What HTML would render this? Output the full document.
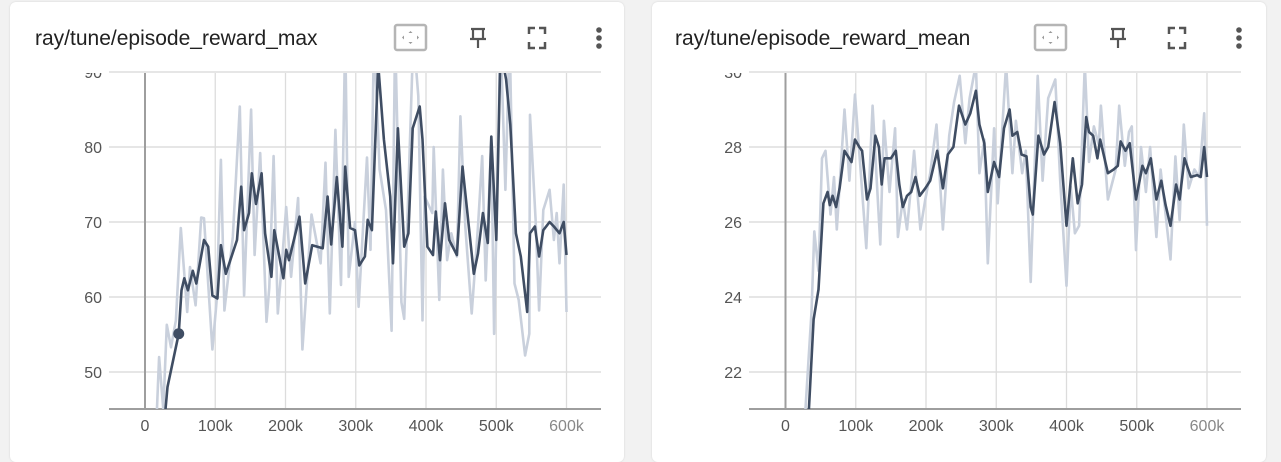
<!DOCTYPE html>
<html><head><meta charset="utf-8"><style>
body{margin:0;width:1281px;height:444px;background:#f2f2f2;overflow:hidden;font-family:"Liberation Sans",sans-serif}
.card{position:absolute;top:2px;width:614px;height:460px;background:#fff;border-radius:6px;box-shadow:0 0 2px rgba(0,0,0,.12)}
svg{position:absolute;left:0;top:0}
</style></head><body>
<div class="card" style="left:10px"></div>
<div class="card" style="left:652px"></div>
<svg id="s" width="1281" height="444"></svg>
<script>
// ---- data: left chart (episode_reward_max) ----
const maxSmoothX=[29,32,48,52,56,61,68,73,84,90,96,103,108,115,131,137,141,148,152,158,166,171,180,184,197,201,205,220,228,238,253,260,265,273,281,285,292,299,305,313,317,323,332,340,349,353,360,369,375,381,391,395,402,410,414,420,427,433,444,452,468,474,481,488,493,500,506,514,520,528,535,544,548,555,561,567,576,582,590,596,600];
const maxSmoothY=[44.9,48,55.1,60.9,62.5,60.9,63.5,61.8,67.6,66.7,60.2,59.8,66.9,63.1,67.6,74.7,68.9,71.2,76.5,72.4,76.5,68.5,62.7,68.9,62.5,66.3,64.9,70.7,61.8,66.9,66.5,73.4,67,76,66.7,77.4,69.2,68.9,64.2,65.4,70.3,68.9,91,81,73.4,64.5,82.5,66.7,68.5,82.5,85.4,81,66.7,65.6,71.4,64.9,72.5,67.6,65.6,77.4,63.1,65.8,71.2,67.2,81.4,67.6,93,89,83,68.5,65.4,58,68.5,69.4,65.4,68.9,70,69.4,68.5,70,65.6];
const maxRawX=[17,20,26,31,37,44,51,60,64,72,80,84,96,102,108,113,125,135,141,151,156,164,173,177,183,189,195,201,208,218,224,237,250,257,263,271,279,285,290,299,304,316,321,326,334,343,351,356,365,369,382,389,395,398,409,411,419,424,430,436,444,449,456,465,474,480,485,493,497,506,513,519,526,532,541,547,548,556,561,567,576,582,586,590,596,600];
const maxRawY=[44.9,52,45,56.3,53.3,56.9,69.2,58,64,58.9,70.6,70.5,53,59.6,78.3,58.2,68,85.4,60.2,85,65.6,79.2,56.7,61.3,78.8,57.8,64.7,72,62.7,73.2,53,71,64.5,77.9,57.8,82.3,61.6,95,62.7,70,58.7,78.6,66.3,95,77,71.6,55.5,95,59.3,57.1,95,86.8,56.9,73.4,71.2,80,59.6,77,64.9,68.5,65.4,84.1,69.4,57.8,69.4,78.8,62.2,81,55.1,95,74.3,95,61.8,59.6,52.2,55.1,84.3,70.3,58.2,71.6,74.3,67.6,71.2,64.5,75,58];
const maxTicks=[50,60,70,80,90];
// ---- data: right chart (episode_reward_mean) ----
const meanSmoothX=[33,40,47,54,60,63,67,72,77,84,94,99,105,109,116,121,128,133,137,141,150,157,162,167,173,179,185,191,199,206,216,224,231,239,247,256,263,271,276,283,288,297,304,311,319,323,330,336,343,349,352,360,368,374,383,391,400,409,416,422,428,432,438,444,448,459,467,473,477,484,490,499,508,513,520,528,535,541,548,556,561,568,577,586,591,596,600];
const meanSmoothY=[20.9,23.4,24.2,26.5,26.8,26.45,26.7,26.4,26.9,27.9,27.6,28.2,28.0,27.9,26.6,26.9,28.3,28.0,27.0,27.7,27.7,27.9,27.0,26.4,26.7,26.8,27.2,26.7,26.9,27.1,27.9,26.9,27.8,28.0,29.1,28.6,28.9,29.5,28.6,28.1,26.8,27.6,27.2,28.5,29.0,28.3,28.4,27.8,27.75,26.4,26.2,28.3,27.8,28.0,29.2,28.1,25.9,27.7,26.5,27.0,28.8,28.4,28.3,27.7,28.2,27.3,27.4,27.5,28.15,27.9,28.1,26.6,27.5,27.3,27.7,26.6,27.1,26.45,25.9,27.0,26.6,27.7,27.2,27.25,27.2,28.0,27.2];
const meanRawX=[28,37,41,47,52,57,64,69,73,84,91,99,106,115,124,135,140,148,156,160,167,173,179,183,192,199,206,215,224,233,240,248,256,262,271,276,283,288,297,302,314,323,328,337,342,349,359,366,374,384,391,400,406,412,418,426,432,439,446,449,459,470,475,483,489,493,499,506,513,519,528,534,541,548,555,561,567,574,582,589,596,600];
const meanRawY=[20.9,23.6,25.75,24.7,27.7,27.9,26.2,27.2,25.8,29.0,27.1,29.4,27.6,25.3,29.1,25.4,28.7,26.8,28.5,25.6,26.6,25.8,27.0,27.9,25.8,26.6,27.3,28.6,25.8,28.3,29.2,29.9,28.1,29.3,30.2,27.3,28.2,24.9,28.5,26.5,30.2,27.3,28.7,27.3,27.9,24.4,29.9,27.1,29.3,29.8,27.1,24.3,26.95,25.7,25.9,30.2,27.6,28.55,28.06,29.1,26.6,27.4,29.1,27.5,28.4,28.55,25.25,28.0,26.8,28.0,25.6,27.4,26.2,25.0,27.75,26.05,28.6,26.9,27.4,27.2,28.9,25.9];
const meanTicks=[22,24,26,28,30];
const xTicks=[0,100,200,300,400,500,600];
const xTickLabels=["0","100k","200k","300k","400k","500k","600k"];

const NS="http://www.w3.org/2000/svg";
const svg=document.getElementById('s');
function mk(tag,attrs,parent){const e=document.createElementNS(NS,tag);for(const k in attrs)e.setAttribute(k,attrs[k]);(parent||svg).appendChild(e);return e;}

function chart(o){
  const g=mk('g',{});
  
  
  const left=o.left,right=o.left+492,top=73,bottom=409;
  const xs=k=>o.x0+(k/600)*(o.x600-o.x0);
  const ys=v=>147+(o.yRef-v)*o.pxPerUnit;
  const t=mk('text',{x:o.left-74,y:45,'font-size':21,fill:'#212121'},g);t.textContent=o.title;
  
  
  const ic=mk('g',{},g);
  
  
  const b=o.left+286;
  const fit=mk('rect',{x:b,y:25,width:31,height:25,rx:2,fill:'#fff',stroke:'#b5b5b5','stroke-width':2.5},ic);
  
  
  mk('path',{d:`M${b+15.5} 31l-2 2h4z M${b+15.5} 44l-2 -2h4z M${b+7} 37.5l2 -2v4z M${b+24} 37.5l-2 -2v4z`,fill:'#999'},ic);
  const pin=mk('path',{d:`M${b+76} 29h14 M${b+78} 29v9 M${b+88} 29v9 M${b+75} 39h16 M${b+83} 39v9`,stroke:'#555','stroke-width':2.2,fill:'none'},ic);
  
  
  const fs=mk('path',{d:`M${b+134} 34v-6h6 M${b+144} 28h6v6 M${b+150} 42v6h-6 M${b+140} 48h-6v-6`,stroke:'#555','stroke-width':2.5,fill:'none'},ic);
  
  
  const more=mk('g',{fill:'#555'},ic);
  
  
  [30,38,46].forEach(y=>mk('circle',{cx:b+204,cy:y,r:2.8},more));
  const cid='c'+o.left;
  const cp=mk('clipPath',{id:cid},g);mk('rect',{x:left,y:top,width:right-left,height:bottom-top},cp);
  const cpy=mk('clipPath',{id:cid+'y'},g);mk('rect',{x:left-45,y:top,width:45,height:bottom-top},cpy);
  o.ticks.forEach(v=>{const y=ys(v);if(y<top-1||y>bottom)return;
    mk('line',{x1:left,x2:right,y1:y,y2:y,stroke:'#d6d6d6','stroke-width':1.3},g);
    const lt=mk('text',{x:left-7,y:y+6,'font-size':16,fill:'#555','text-anchor':'end','clip-path':`url(#${cid}y)`},g);lt.textContent=v;
    
    
  });
  xTicks.forEach((k,i)=>{const x=xs(k);
    mk('line',{x1:x,x2:x,y1:top,y2:bottom,stroke:k===0?'#9e9e9e':'#dcdcdc','stroke-width':k===0?2:1.3},g);
    const tx=mk('text',{x:x,y:431,'font-size':16,fill:i===6?'#888':'#555','text-anchor':'middle'},g);tx.textContent=xTickLabels[i];
    
    
  });
  mk('line',{x1:left,x2:right,y1:bottom,y2:bottom,stroke:'#9e9e9e','stroke-width':2},g);
  const pts=(X,Y)=>X.map((k,i)=>xs(k).toFixed(1)+','+ys(Y[i]).toFixed(1)).join(' ');
  const raw=mk('polyline',{points:pts(o.rawX,o.rawY),fill:'none',stroke:'#c9d0dc','stroke-width':2.6,'stroke-linejoin':'round','clip-path':`url(#${cid})`},g);
  
  
  const sm=mk('polyline',{points:pts(o.smX,o.smY),fill:'none',stroke:'#3f4d63','stroke-width':2.6,'stroke-linejoin':'round','clip-path':`url(#${cid})`},g);
  
  
  if(o.dot!=null){const d=mk('circle',{cx:xs(o.smX[o.dot]),cy:ys(o.smY[o.dot]),r:5.5,fill:'#3f4d63'},g);
    
    }
}
chart({name:'reward-max-chart',title:'ray/tune/episode_reward_max',left:109,x0:145,x600:566.5,yRef:80,pxPerUnit:7.5,ticks:maxTicks,rawX:maxRawX,rawY:maxRawY,smX:maxSmoothX,smY:maxSmoothY,dot:2});
chart({name:'reward-mean-chart',title:'ray/tune/episode_reward_mean',left:749,x0:785.5,x600:1207,yRef:28,pxPerUnit:37.5,ticks:meanTicks,rawX:meanRawX,rawY:meanRawY,smX:meanSmoothX,smY:meanSmoothY,dot:null});
</script>
</body></html>
